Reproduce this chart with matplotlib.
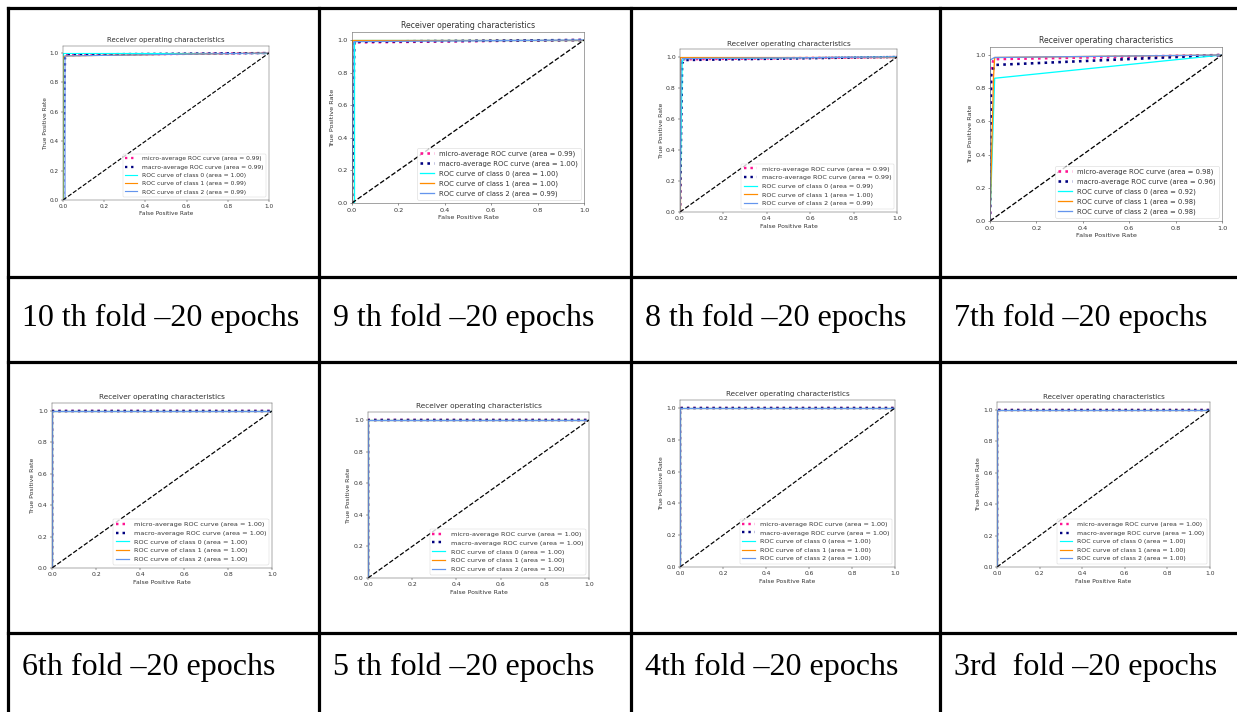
import matplotlib
matplotlib.use("Agg")
import matplotlib.pyplot as plt
from matplotlib.lines import Line2D

W, H = 1237, 712

# captions under each ROC screenshot
captions = ["10 th fold \u201320 epochs", "9 th fold \u201320 epochs",
            "8 th fold \u201320 epochs", "7th fold \u201320 epochs",
            "6th fold \u201320 epochs", "5 th fold \u201320 epochs",
            "4th fold \u201320 epochs", "3rd  fold \u201320 epochs"]

# areas shown in the legends: micro, macro, class 0, class 1, class 2
micro_area = [0.99, 0.99, 0.99, 0.98, 1.00, 1.00, 1.00, 1.00]
macro_area = [0.99, 1.00, 0.99, 0.96, 1.00, 1.00, 1.00, 1.00]
class0_area = [1.00, 1.00, 0.99, 0.92, 1.00, 1.00, 1.00, 1.00]
class1_area = [0.99, 1.00, 1.00, 0.98, 1.00, 1.00, 1.00, 1.00]
class2_area = [0.99, 0.99, 0.99, 0.98, 1.00, 1.00, 1.00, 1.00]

# curve points (fpr, tpr)
perfect = ([0, 0, 1], [0, 1, 1])
micro_pts = [([0, 0.005, 1], [0, 0.985, 1]),
             ([0, 0.005, 1], [0, 0.985, 1]),
             ([0, 0.005, 1], [0, 0.985, 1]),
             ([0, 0.005, 0.015, 1], [0, 0.9, 0.975, 1]),
             perfect, perfect, perfect, perfect]
macro_pts = [([0, 0.01, 0.02, 1], [0, 0.97, 0.99, 1]),
             ([0, 0.01, 1], [0, 0.99, 1]),
             ([0, 0.01, 0.02, 1], [0, 0.96, 0.98, 1]),
             ([0, 0.005, 0.02, 1], [0, 0.88, 0.94, 1]),
             perfect, perfect, perfect, perfect]
class0_pts = [([0, 0, 1], [0, 1, 1]),
              ([0, 0.01, 0.01, 1], [0, 0, 1, 1]),
              ([0, 0.01, 0.02, 1], [0, 0.97, 0.99, 1]),
              ([0, 0.02, 1], [0, 0.86, 1]),
              perfect, perfect, perfect, perfect]
class1_pts = [([0, 0, 0.01, 1], [0, 0.97, 0.98, 1]),
              ([0, 0, 1], [0, 1, 1]),
              ([0, 0, 1], [0, 1, 1]),
              ([0, 0.015, 0.02, 1], [0, 0.86, 0.985, 1]),
              perfect, perfect, perfect, perfect]
class2_pts = [([0, 0.01, 0.01, 1], [0, 0, 0.98, 1]),
              ([0, 0.005, 0.01, 1], [0, 0.98, 0.99, 1]),
              ([0, 0.005, 0.01, 1], [0, 0.97, 0.99, 1]),
              ([0, 0, 0.02, 1], [0, 0.97, 0.985, 1]),
              perfect, perfect, perfect, perfect]

# where each screenshot's axes sit in the page: x of 0.0, x of 1.0, y of 1.0, y of 0.0 (pixels)
boxes = [(63, 269, 53, 200), (352, 584, 40, 203), (680, 897, 57, 212), (990, 1222, 55, 221),
         (52, 272, 411, 568), (368, 589, 420, 578), (680, 895, 408, 567), (997, 1210, 410, 567)]

col_lines = [8, 319, 631, 940]
row_lines = [8, 277, 362, 633]
caption_y = [318, 667]

fig = plt.figure(figsize=(W / 100, H / 100), dpi=100)

for i in range(8):
    x0, x1, y1, y0 = boxes[i]
    unit = y0 - y1
    top = y1 - 0.05 * unit
    s = (x1 - x0) / 496
    ax = fig.add_axes([x0 / W, 1 - y0 / H, (x1 - x0) / W, (y0 - top) / H])
    ax.plot(*micro_pts[i], color="deeppink", linestyle=":", lw=4 * s,
            label="micro-average ROC curve (area = %.2f)" % micro_area[i])
    ax.plot(*macro_pts[i], color="navy", linestyle=":", lw=4 * s,
            label="macro-average ROC curve (area = %.2f)" % macro_area[i])
    ax.plot(*class0_pts[i], color="aqua", lw=2 * s,
            label="ROC curve of class 0 (area = %.2f)" % class0_area[i])
    ax.plot(*class1_pts[i], color="darkorange", lw=2 * s,
            label="ROC curve of class 1 (area = %.2f)" % class1_area[i])
    ax.plot(*class2_pts[i], color="cornflowerblue", lw=2 * s,
            label="ROC curve of class 2 (area = %.2f)" % class2_area[i])
    ax.plot([0, 1], [0, 1], "k--", lw=2 * s)
    ax.set_xlim(0.0, 1.0)
    ax.set_ylim(0.0, 1.05)
    ax.set_xticks([0, 0.2, 0.4, 0.6, 0.8, 1.0])
    ax.set_yticks([0, 0.2, 0.4, 0.6, 0.8, 1.0])
    ax.tick_params(labelsize=10 * s, length=3.5 * s, width=0.8 * s, pad=3.5 * s,
                   colors="#333333")
    for sp in ax.spines.values():
        sp.set_linewidth(0.8 * s)
        sp.set_color("#555555")
    ax.set_xlabel("False Positive Rate", fontsize=10 * s, labelpad=4 * s, color="#333333")
    ax.set_ylabel("True Positive Rate", fontsize=10 * s, labelpad=4 * s, color="#333333")
    ax.set_title("Receiver operating characteristics", fontsize=12 * s, pad=6 * s,
                 color="#333333")
    leg = ax.legend(loc="lower right", fontsize=10.5 * s, handlelength=2,
                    borderpad=0.4, labelspacing=0.5)
    leg.get_frame().set_linewidth(0.8 * s)
    for t in leg.get_texts():
        t.set_color("#333333")

    cx = col_lines[i % 4]
    fig.text((cx + 14) / W, 1 - caption_y[i // 4] / H, captions[i],
             family="Liberation Serif", fontsize=23, va="center", ha="left")

for x in col_lines:
    fig.add_artist(Line2D([x / W, x / W], [1 - 8 / H, 0], color="black", lw=2.3))
for y in row_lines:
    fig.add_artist(Line2D([8 / W, 1], [1 - y / H, 1 - y / H], color="black", lw=2.3))

fig.savefig("out.png", dpi=100)
